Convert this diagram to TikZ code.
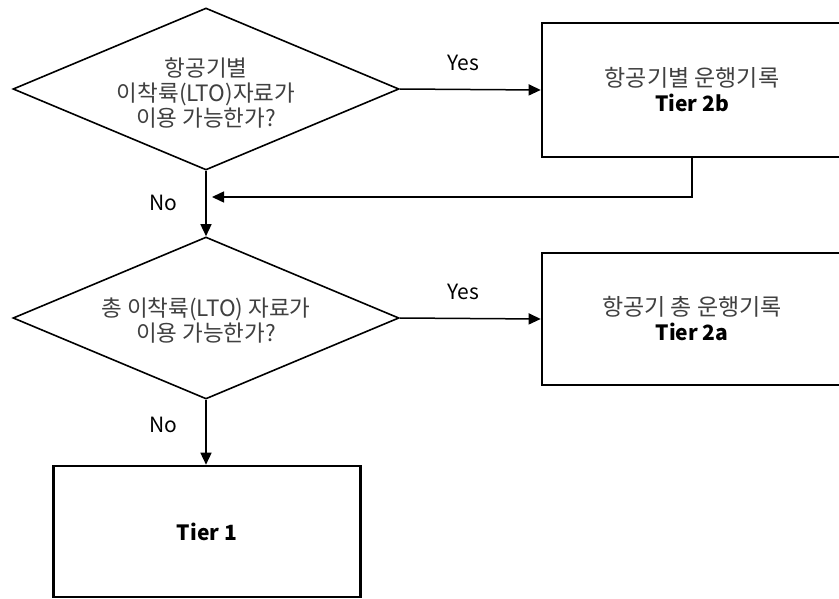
\documentclass[tikz,border=0pt]{standalone}
\usepackage{fontspec}
\setmainfont{Noto Sans CJK KR}
\usetikzlibrary{shapes.geometric,arrows.meta,calc}
\definecolor{txtgray}{gray}{0.25}
\tikzset{
  decision/.style={draw=black, line width=1.6pt, shape=diamond, inner sep=0pt,
    minimum width=386pt, minimum height=162pt},
  dtext/.style={align=center, text=txtgray, inner sep=0pt,
    font=\fontsize{22.5pt}{25pt}\selectfont},
  result/.style={draw=black, line width=2.6pt, rectangle, inner sep=0pt,
    align=center, text=txtgray, font=\fontsize{23pt}{25pt}\selectfont},
  tierlbl/.style={font=\fontsize{21pt}{25pt}\selectfont\bfseries, text=black},
  conn/.style={line width=1.5pt, -{Triangle[length=12pt,width=11pt]}},
  lbl/.style={font=\fontsize{21pt}{24pt}\selectfont, text=black, inner sep=0pt}
}
\begin{document}
\begin{tikzpicture}[x=1pt,y=-1pt]
\useasboundingbox (0,0) rectangle (839,599);
\clip (0,0) rectangle (839,599);
\fill[white] (0,0) rectangle (839,599);
% nodes
\node[decision] (d1) at (206,89) {};
\node[dtext] (d1t) at (206,93) {항공기별\\이착륙(LTO)자료가\\이용 가능한가?};
\node[decision] (d2) at (206,318) {};
\node[dtext] (d2t) at (206,321) {총 이착륙(LTO) 자료가\\이용 가능한가?};
\node[result, minimum width=300pt, minimum height=134pt] (b1) at (692,90)
  {항공기별 운행기록\\\textcolor{black}{\fontsize{21pt}{25pt}\selectfont\bfseries Tier 2b}};
\node[result, minimum width=300pt, minimum height=132pt] (b2) at (692,319)
  {항공기 총 운행기록\\\textcolor{black}{\fontsize{21pt}{25pt}\selectfont\bfseries Tier 2a}};
\node[result, minimum width=307pt, minimum height=131pt] (t1) at (207,531.5)
  {\textcolor{black}{\fontsize{21pt}{25pt}\selectfont\bfseries Tier 1}};
% labels
\node[lbl] (y1) at (463,63) {Yes};
\node[lbl] (y2) at (463,292) {Yes};
\node[lbl] (n1) at (163,203) {No};
\node[lbl] (n2) at (163,425) {No};
\coordinate (m) at (206,197);
% connectors
\draw[conn] (d1.east) -- (b1.west);
\draw[conn] (d1.south) -- (d2.north);
\draw[conn, shorten >=6pt] (b1.south) |- (m);
\draw[conn] (d2.east) -- (b2.west);
\draw[conn] (d2.south) -- (d2.south |- t1.north);
\end{tikzpicture}
\end{document}
